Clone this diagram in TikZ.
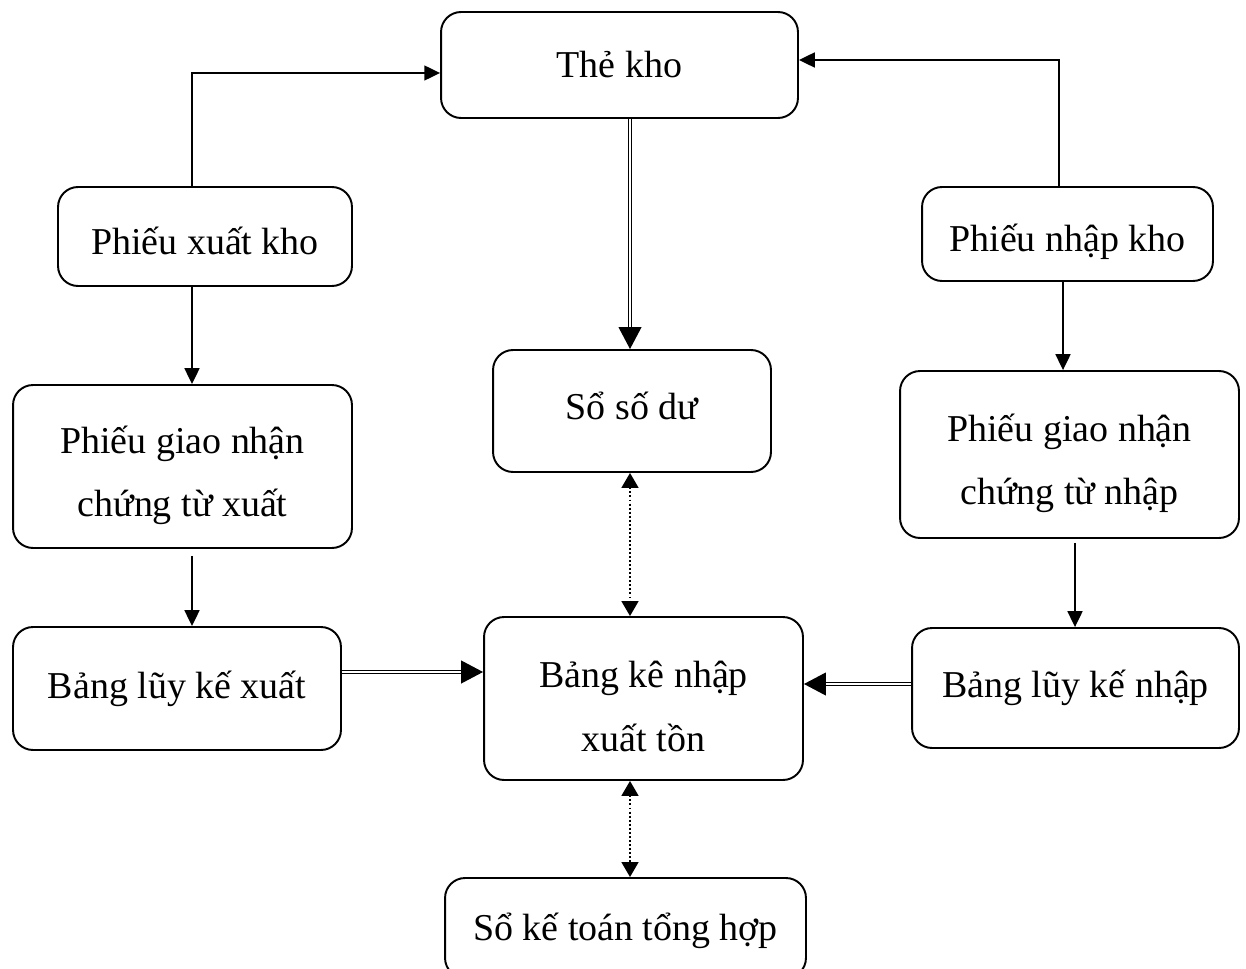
\documentclass[tikz,border=0pt]{standalone}
\usepackage{fontspec}
\setmainfont{Liberation Serif}
\usetikzlibrary{arrows.meta,calc}
\begin{document}
\begin{tikzpicture}[x=0.02cm,y=-0.02cm,
  box/.style={draw, line width=1.1pt, rounded corners=0.4cm, inner sep=0pt},
  txt/.style={inner sep=0pt, align=center, font=\fontsize{21.6}{36.2}\selectfont},
  arr/.style={line width=1pt, -{Triangle[length=9pt,width=8.5pt]}},
  dotarr/.style={line width=1.1pt, dash pattern=on 1.1pt off 1.2pt,
    {Triangle[length=8.5pt,width=9.6pt]}-{Triangle[length=8.5pt,width=9.6pt]}},
  dbl/.style={double, double distance=1pt, line width=0.75pt,
    -{Triangle[length=12.5pt,width=13pt]}}]
\useasboundingbox (0,0) rectangle (1246,969);
\clip (0,0) rectangle (1246,969);

% document boxes
\node[box, minimum width=7.14cm, minimum height=2.12cm] (the) at (619.5,65) {};
\node[box, minimum width=5.88cm, minimum height=1.98cm] (pxk) at (205,236.5) {};
\node[box, minimum width=5.82cm, minimum height=1.88cm] (pnk) at (1067.5,234) {};
\node[box, minimum width=5.56cm, minimum height=2.44cm] (ssd) at (632,411) {};
\node[box, minimum width=6.78cm, minimum height=3.26cm] (pgx) at (182.5,466.5) {};
\node[box, minimum width=6.78cm, minimum height=3.34cm] (pgn) at (1069.5,454.5) {};
\node[box, minimum width=6.56cm, minimum height=2.46cm] (blx) at (177,688.5) {};
\node[box, minimum width=6.38cm, minimum height=3.26cm] (bk) at (643.5,698.5) {};
\node[box, minimum width=6.54cm, minimum height=2.40cm] (bln) at (1075.5,688) {};
\node[box, minimum width=7.22cm, minimum height=2.00cm] (skt) at (625.5,928) {};

% box texts
\node[txt] (the-t) at ($(the)+(0,0)$) {Thẻ kho};
\node[txt] (pxk-t) at ($(pxk)+(0,4)$) {Phiếu xuất kho};
\node[txt] (pnk-t) at ($(pnk)+(0,8)$) {Phiếu nhập kho};
\node[txt] (ssd-t) at ($(ssd)+(0,-5)$) {Sổ số dư};
\node[txt] (pgx-t) at ($(pgx)+(0,9)$) {Phiếu giao nhận\\chứng từ xuất};
\node[txt] (pgn-t) at ($(pgn)+(0,9)$) {Phiếu giao nhận\\chứng từ nhập};
\node[txt] (blx-t) at ($(blx)+(0,0)$) {Bảng lũy kế xuất};
\node[txt] (bk-t) at ($(bk)+(0,8)$) {Bảng kê nhập\\xuất tồn};
\node[txt] (bln-t) at ($(bln)+(0,0)$) {Bảng lũy kế nhập};
\node[txt] (skt-t) at ($(skt)+(0,3)$) {Sổ kế toán tổng hợp};

% routing points
\coordinate (lk) at (192,73);
\coordinate (rk) at (1059,60);
\coordinate (lx) at (192,0);
\coordinate (rx1) at (1063,0);
\coordinate (rx2) at (1075,0);
\coordinate (cx) at (630,0);
\coordinate (ly) at (0,672);
\coordinate (ry) at (0,684);

% connectors
\draw[arr] (lk |- pxk.north) -- (lk) -- (lk -| the.west);
\draw[arr] (rk |- pnk.north) -- (rk) -- (rk -| the.east);
\draw[arr] (lx |- pxk.south) -- (lx |- pgx.north);
\draw[arr, shorten <=0.14cm] (lx |- pgx.south) -- (lx |- blx.north);
\draw[arr] (rx1 |- pnk.south) -- (rx1 |- pgn.north);
\draw[arr, shorten <=0.08cm] (rx2 |- pgn.south) -- (rx2 |- bln.north);
\draw[dbl] (cx |- the.south) -- (cx |- ssd.north);
\draw[dotarr] (cx |- ssd.south) -- (cx |- bk.north);
\draw[dotarr] (cx |- bk.south) -- (cx |- skt.north);
\draw[dbl] (ly -| blx.east) -- (ly -| bk.west);
\draw[dbl] (ry -| bln.west) -- (ry -| bk.east);
\end{tikzpicture}
\end{document}
